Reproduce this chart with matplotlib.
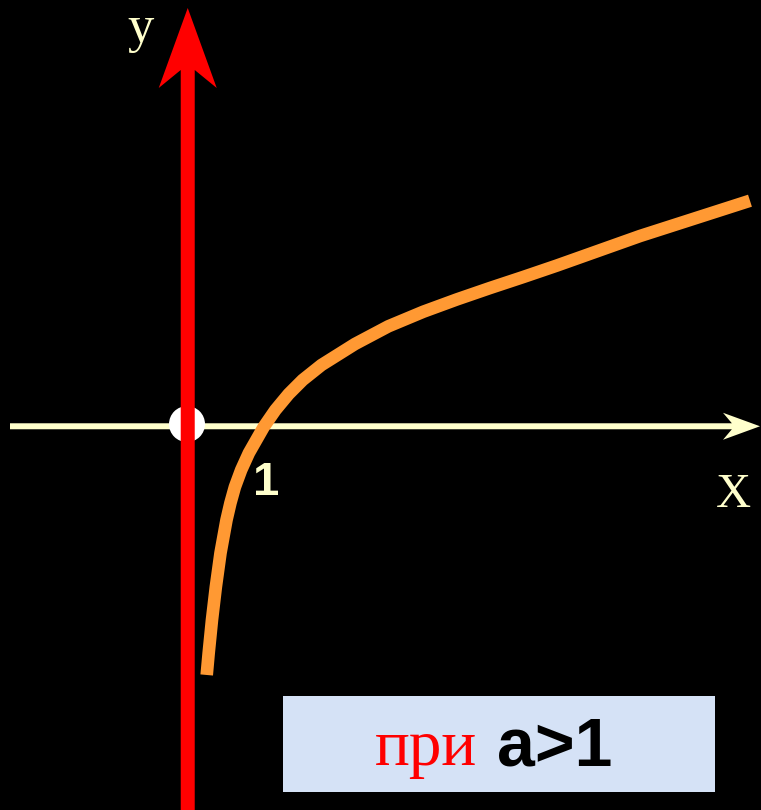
import matplotlib
matplotlib.use("Agg")
import matplotlib.pyplot as plt
from matplotlib.patches import Circle, Rectangle

# ---- data (in axis units) ----
curve_x = [0.270, 0.297, 0.342, 0.395, 0.459, 0.541, 0.595, 0.656, 0.742, 0.848, 1.055, 1.211,
           1.393, 1.585, 1.842, 2.301, 2.758, 3.237, 3.695, 4.151, 4.607, 5.068, 6.205, 7.712]
curve_y = [-3.397, -3.096, -2.644, -2.192, -1.726, -1.274, -1.041, -0.822, -0.589, -0.356, 0.007,
           0.233, 0.452, 0.644, 0.849, 1.137, 1.379, 1.579, 1.747, 1.904, 2.055, 2.212, 2.616, 3.100]
y_label = "у"
x_label = "X"
one_label = "1"
cond_word = "при"
cond_expr = "a>1"

W, H, DPI = 761, 810, 100
PX = 73.0              # pixels per unit
OX, OY = 187.0, 427.0  # origin in pixels

fig = plt.figure(figsize=(W / DPI, H / DPI), dpi=DPI, facecolor="black")
ax = fig.add_axes([0, 0, 1, 1])
ax.set_facecolor("black")
ax.set_xlim(-OX / PX, (W - OX) / PX)
ax.set_ylim(-(H - OY) / PX, OY / PX)
ax.set_aspect("equal")
ax.axis("off")

cream = "#FFFFCC"

# x axis arrow
x0 = -177 / PX
x_tip = 573 / PX
ax.arrow(x0, 0.01, x_tip - x0, 0, width=6 / PX, head_width=27 / PX, head_length=37 / PX,
         overhang=0.24, length_includes_head=True, color=cream, lw=0, zorder=1)

# origin circle
ax.add_patch(Circle((0, 0.04), 18 / PX, facecolor="white", edgecolor="none", zorder=2))

# y axis arrow (red)
y0 = -(H - OY) / PX - 0.1
y_tip = (OY - 8) / PX
ax.arrow(0.01, y0, 0, y_tip - y0, width=14 / PX, head_width=58 / PX, head_length=80 / PX,
         overhang=0.225, length_includes_head=True, color="#FF0000", lw=0, zorder=3)

# log curve
ax.plot(curve_x, curve_y, color="#FF9933", lw=9.1, solid_capstyle="butt",
        solid_joinstyle="round", zorder=4)

# labels
ax.text(-0.63, 5.274, y_label, color=cream, fontsize=38, family="Liberation Serif",
        ha="center", va="baseline", zorder=5)
ax.text(7.48, -1.096, x_label, color=cream, fontsize=35, family="Liberation Serif",
        ha="center", va="baseline", zorder=5)
ax.text(1.082, -0.932, one_label, color=cream, fontsize=34, family="Liberation Sans",
        fontweight="bold", ha="center", va="baseline", zorder=5)

# condition box
bx0, bx1 = (283 - OX) / PX, (715 - OX) / PX
by0, by1 = (OY - 792) / PX, (OY - 696) / PX
ax.add_patch(Rectangle((bx0, by0), bx1 - bx0, by1 - by0, facecolor="#D5E2F6",
                       edgecolor="none", zorder=5))
ax.text((375 - OX) / PX, (OY - 765) / PX, cond_word, color="#FF0000", fontsize=47,
        family="Liberation Serif", ha="left", va="baseline", zorder=6)
ax.text((497 - OX) / PX, (OY - 765) / PX, cond_expr, color="black", fontsize=49,
        family="Liberation Sans", fontweight="bold", ha="left", va="baseline", zorder=6)

fig.savefig("out.png", dpi=DPI, facecolor="black")
